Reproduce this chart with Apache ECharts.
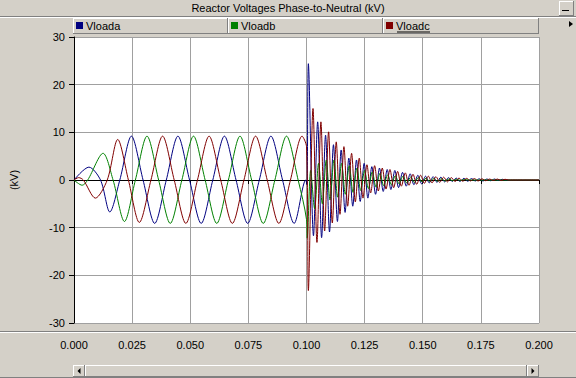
<!DOCTYPE html>
<html>
<head>
<meta charset="utf-8">
<script src="https://cdn.jsdelivr.net/npm/echarts@6/dist/echarts.min.js"></script>
<style>
html, body { margin: 0; padding: 0; background: #d4d0c8; }
#main { width: 576px; height: 378px; }
</style>
</head>
<body>
<div id="main"></div>
<script>
// values: [time (s), kV]
var vloada = [
  [0, 0], [0.0064, 2.7], [0.0114, 0], [0.0154, -6.7], [0.0197, 0], [0.0247, 9.2],
  [0.0297, 0], [0.0347, -9.1], [0.0397, 0], [0.0447, 9.2], [0.0497, 0], [0.0547, -9.1],
  [0.0597, 0], [0.0647, 9.2], [0.0697, 0], [0.0747, -9.1], [0.0797, 0], [0.0847, 9.2],
  [0.0897, 0], [0.0947, -9.1], [0.0997, 0], [0.1002, -1.0], [0.1008, 24.4],
  [0.1030, -11.7], [0.1048, 12.2], [0.1065, -12.1], [0.1082, 9.4], [0.1099, -10.9],
  [0.1116, 7.4], [0.1133, -8.7], [0.1149, 6.3], [0.1166, -6.8], [0.1182, 4.6],
  [0.1199, -5.5], [0.1215, 4.2], [0.1231, -4.5], [0.1248, 3.5], [0.1264, -3.8],
  [0.1281, 2.8], [0.1297, -3.0], [0.1314, 2.5], [0.1330, -2.4], [0.1347, 2.2],
  [0.1363, -2.0], [0.1380, 2.0], [0.1396, -1.6], [0.1413, 1.6], [0.1429, -1.3],
  [0.1446, 1.3], [0.1462, -1.0], [0.1479, 1.0], [0.1495, -0.8], [0.1512, 0.8],
  [0.1528, -0.6], [0.1545, 0.7], [0.1561, -0.5], [0.1578, 0.6], [0.1594, -0.4],
  [0.1611, 0.5], [0.1627, -0.3], [0.1644, 0.4], [0.1660, -0.3], [0.1677, 0.35],
  [0.1693, -0.25], [0.1710, 0.3], [0.1726, -0.2], [0.1743, 0.25], [0.1759, -0.2],
  [0.1776, 0.2], [0.1792, -0.15], [0.1809, 0.2], [0.1825, -0.1], [0.1842, 0.15],
  [0.1858, 0], [0.2, 0]
];
var vloadb = [
  [0, 0], [0.0035, -1.1], [0.0059, 0], [0.0125, 5.6], [0.0168, 0], [0.0217, -8.7],
  [0.0264, 0], [0.0314, 9.2], [0.0364, 0], [0.0414, -9.1], [0.0464, 0], [0.0514, 9.2],
  [0.0564, 0], [0.0614, -9.1], [0.0664, 0], [0.0714, 9.2], [0.0764, 0], [0.0814, -9.1],
  [0.0864, 0], [0.0914, 9.2], [0.0964, 0], [0.1000, -8.3], [0.1003, -12.2],
  [0.1018, 2.0], [0.1035, -6.0], [0.1052, 3.5], [0.1068, -5.0], [0.1085, 4.2],
  [0.1101, -4.2], [0.1118, 4.2], [0.1134, -3.6], [0.1151, 3.5], [0.1167, -3.0],
  [0.1184, 3.0], [0.1200, -2.6], [0.1217, 2.5], [0.1233, -2.2], [0.1250, 2.0],
  [0.1266, -1.8], [0.1283, 1.7], [0.1299, -1.5], [0.1316, 1.4], [0.1332, -1.2],
  [0.1349, 1.1], [0.1365, -1.0], [0.1382, 0.9], [0.1398, -0.8], [0.1415, 0.8],
  [0.1431, -0.6], [0.1448, 0.6], [0.1464, -0.5], [0.1481, 0.5], [0.1497, -0.4],
  [0.1514, 0.4], [0.1530, -0.3], [0.1547, 0.3], [0.1563, -0.25], [0.1580, 0.25],
  [0.1596, -0.2], [0.1613, 0.2], [0.1629, -0.15], [0.1646, 0.15], [0.1662, -0.1],
  [0.1679, 0.1], [0.1700, 0], [0.2, 0]
];
var vloadc = [
  [0, 0], [0.002, 0.5], [0.004, 0], [0.0092, -3.8], [0.0143, 0], [0.0188, 8.5],
  [0.0234, 0], [0.0281, -8.9], [0.0331, 0], [0.0381, 9.2], [0.0431, 0], [0.0481, -9.1],
  [0.0531, 0], [0.0581, 9.2], [0.0631, 0], [0.0681, -9.1], [0.0731, 0], [0.0781, 9.2],
  [0.0831, 0], [0.0881, -9.1], [0.0931, 0], [0.0981, 9.2], [0.1000, 7.0],
  [0.1008, -23.2], [0.1028, 15.0], [0.1045, -13.1], [0.1062, 12.2], [0.1078, -10.7],
  [0.1095, 10.1], [0.1111, -9.0], [0.1128, 8.0], [0.1144, -7.2], [0.1161, 7.0],
  [0.1177, -5.5], [0.1194, 5.6], [0.1210, -4.6], [0.1227, 4.6], [0.1243, -3.8],
  [0.1260, 3.2], [0.1276, -2.7], [0.1293, 3.0], [0.1309, -2.3], [0.1326, 2.5],
  [0.1342, -1.9], [0.1359, 2.2], [0.1375, -1.6], [0.1392, 1.8], [0.1408, -1.3],
  [0.1425, 1.5], [0.1441, -1.1], [0.1458, 1.2], [0.1474, -0.9], [0.1491, 1.0],
  [0.1507, -0.7], [0.1524, 0.8], [0.1540, -0.6], [0.1557, 0.7], [0.1573, -0.5],
  [0.1590, 0.6], [0.1606, -0.4], [0.1623, 0.5], [0.1639, -0.3], [0.1656, 0.4],
  [0.1672, -0.25], [0.1689, 0.35], [0.1705, -0.2], [0.1722, 0.3], [0.1738, -0.2],
  [0.1755, 0.25], [0.1771, -0.15], [0.1788, 0.2], [0.1804, -0.1], [0.1821, 0.2],
  [0.1837, -0.1], [0.1854, 0.15], [0.1870, 0], [0.2, 0]
];
var seriesNames = ['Vloada', 'Vloadb', 'Vloadc'];
var seriesColors = ['#000080', '#008000', '#800000'];
var chartTitle = 'Reactor Voltages Phase-to-Neutral (kV)';
var yName = '(kV)';

var BG = '#d4d0c8';
var DARK = '#808080';
var LIGHT = '#ffffff';
var FONT = 'Liberation Sans, Arial, sans-serif';

// raised windows-style box
function bevel(x, y, w, h) {
  return [
    { type: 'rect', shape: { x: x, y: y, width: w, height: h }, style: { fill: BG } },
    { type: 'line', shape: { x1: x, y1: y + 0.5, x2: x + w, y2: y + 0.5 }, style: { stroke: LIGHT, lineWidth: 1 } },
    { type: 'line', shape: { x1: x + 0.5, y1: y, x2: x + 0.5, y2: y + h }, style: { stroke: LIGHT, lineWidth: 1 } },
    { type: 'line', shape: { x1: x, y1: y + h - 0.5, x2: x + w, y2: y + h - 0.5 }, style: { stroke: DARK, lineWidth: 1 } },
    { type: 'line', shape: { x1: x + w - 0.5, y1: y, x2: x + w - 0.5, y2: y + h }, style: { stroke: DARK, lineWidth: 1 } }
  ];
}

var tabLeft = [73, 228, 383];
var tabWidth = [155, 155, 156];

var graphics = [];
// title bar edge
graphics.push({ type: 'line', shape: { x1: 0, y1: 16.5, x2: 576, y2: 16.5 }, style: { stroke: DARK, lineWidth: 1 } });
graphics.push({ type: 'line', shape: { x1: 0, y1: 17.5, x2: 576, y2: 17.5 }, style: { stroke: LIGHT, lineWidth: 1 } });
// minimise button
graphics = graphics.concat(bevel(559, 1, 15, 15));
graphics.push({ type: 'line', shape: { x1: 562, y1: 10.5, x2: 569, y2: 10.5 }, style: { stroke: '#000', lineWidth: 1 } });
// legend tabs
tabLeft.forEach(function (x, i) {
  graphics = graphics.concat(bevel(x, 18, tabWidth[i], 16));
});
// focus underline on the last tab
graphics.push({ type: 'line', shape: { x1: 397, y1: 32, x2: 430, y2: 32 }, style: { stroke: '#000', lineWidth: 1 } });
// arrow at the right of the tabs
graphics.push({ type: 'polygon', shape: { points: [[569, 21], [573, 24], [569, 27]] }, style: { fill: '#000' } });
// separator under the plot
graphics.push({ type: 'line', shape: { x1: 0, y1: 331.5, x2: 576, y2: 331.5 }, style: { stroke: DARK, lineWidth: 1 } });
graphics.push({ type: 'line', shape: { x1: 0, y1: 332.5, x2: 576, y2: 332.5 }, style: { stroke: LIGHT, lineWidth: 1 } });
// scrollbar
graphics.push({ type: 'rect', shape: { x: 73, y: 365, width: 466, height: 12 }, style: { fill: '#eceae6' } });
graphics = graphics.concat(bevel(85, 365, 442, 12));
graphics = graphics.concat(bevel(73, 365, 12, 12));
graphics = graphics.concat(bevel(527, 365, 12, 12));
graphics.push({ type: 'polygon', shape: { points: [[80.5, 368], [77.5, 371], [80.5, 374]] }, style: { fill: '#000' } });
graphics.push({ type: 'polygon', shape: { points: [[531.5, 368], [534.5, 371], [531.5, 374]] }, style: { fill: '#000' } });
graphics.push({ type: 'line', shape: { x1: 0, y1: 377.5, x2: 576, y2: 377.5 }, style: { stroke: DARK, lineWidth: 1 } });

var legends = seriesNames.map(function (name, i) {
  return {
    data: [name],
    left: tabLeft[i] + 3,
    top: 20,
    padding: 0,
    icon: 'rect',
    itemWidth: 7,
    itemHeight: 7,
    selectedMode: false,
    textStyle: { color: '#000', fontSize: 11, fontFamily: FONT, padding: [0, 0, 0, -2] }
  };
});

var myChart = echarts.init(document.getElementById('main'), null, { renderer: 'svg' });
var option = {
  animation: false,
  backgroundColor: BG,
  color: seriesColors,
  title: {
    text: chartTitle,
    left: 'center',
    top: 2,
    padding: 0,
    textStyle: { fontSize: 11, fontWeight: 'normal', color: '#000', fontFamily: FONT }
  },
  legend: legends,
  grid: {
    left: 73,
    right: 37,
    top: 37,
    height: 286,
    show: true,
    backgroundColor: '#ffffff',
    borderWidth: 0
  },
  xAxis: {
    type: 'value',
    min: 0,
    max: 0.2,
    interval: 0.025,
    offset: 11,
    axisLine: { show: true, lineStyle: { color: '#000', width: 1 } },
    axisTick: { show: true, length: 4, lineStyle: { color: '#000' } },
    axisLabel: {
      margin: 5,
      fontSize: 11,
      color: '#000',
      fontFamily: FONT,
      formatter: function (v) { return v.toFixed(3); }
    },
    splitLine: { show: true, lineStyle: { color: '#a0a0a0', width: 1 } }
  },
  yAxis: {
    type: 'value',
    min: -30,
    max: 30,
    interval: 10,
    name: yName,
    nameLocation: 'middle',
    nameGap: 55,
    nameRotate: 90,
    nameTextStyle: { fontSize: 11, color: '#000', fontFamily: FONT },
    axisLine: { show: true, lineStyle: { color: '#000', width: 1 } },
    axisTick: { show: true, length: 5, lineStyle: { color: '#000' } },
    axisLabel: { margin: 9, fontSize: 11, color: '#000', fontFamily: FONT },
    splitLine: { show: true, lineStyle: { color: '#a0a0a0', width: 1 } }
  },
  graphic: { elements: graphics },
  series: [
    { name: seriesNames[0], type: 'line', data: vloada, showSymbol: false, smooth: 0.3, lineStyle: { width: 1 } },
    { name: seriesNames[1], type: 'line', data: vloadb, showSymbol: false, smooth: 0.3, lineStyle: { width: 1 } },
    { name: seriesNames[2], type: 'line', data: vloadc, showSymbol: false, smooth: 0.3, lineStyle: { width: 1 } }
  ]
};
myChart.setOption(option);
</script>
</body>
</html>
